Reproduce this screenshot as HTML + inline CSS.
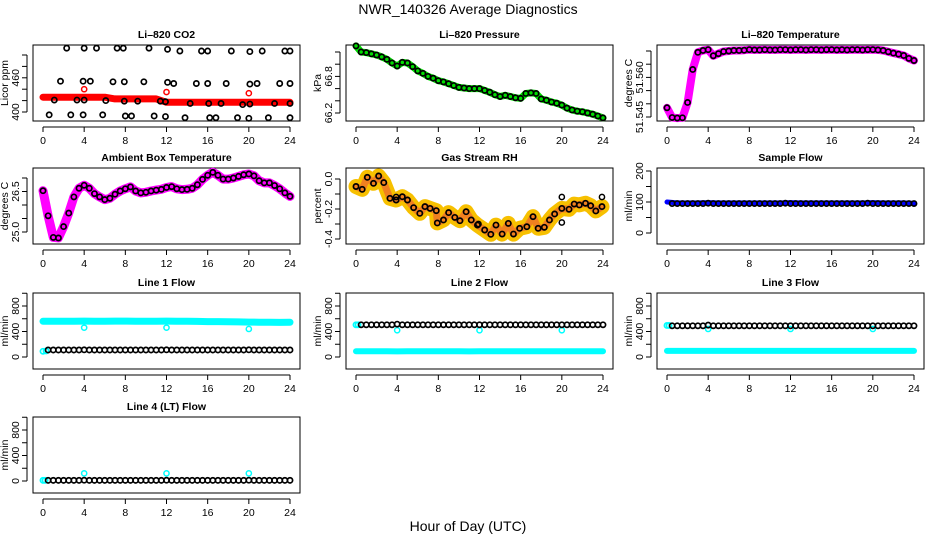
<!DOCTYPE html>
<html><head><meta charset="utf-8">
<style>
html,body{margin:0;padding:0;background:#fff;}
svg{display:block;font-family:"Liberation Sans",sans-serif;}
.t{font-size:10.5px;font-weight:bold;text-anchor:middle;}
.tk{font-size:10.5px;text-anchor:middle;}
</style></head>
<body>
<svg id="fig" width="936" height="540" viewBox="0 0 936 540" xmlns="http://www.w3.org/2000/svg">
<text x="468" y="14" font-size="14" text-anchor="middle">NWR_140326  Average Diagnostics</text>
<text x="468" y="531" font-size="14" text-anchor="middle">Hour of Day (UTC)</text>
</svg>
<script>
const H49=[0,0.5,1,1.5,2,2.5,3,3.5,4,4.5,5,5.5,6,6.5,7,7.5,8,8.5,9,9.5,10,10.5,11,11.5,12,12.5,13,13.5,14,14.5,15,15.5,16,16.5,17,17.5,18,18.5,19,19.5,20,20.5,21,21.5,22,22.5,23,23.5,24];
const H48=[0.5,1,1.5,2,2.5,3,3.5,4,4.5,5,5.5,6,6.5,7,7.5,8,8.5,9,9.5,10,10.5,11,11.5,12,12.5,13,13.5,14,14.5,15,15.5,16,16.5,17,17.5,18,18.5,19,19.5,20,20.5,21,21.5,22,22.5,23,23.5,24];
const H25=[0,1,2,3,4,5,6,7,8,9,10,11,12,13,14,15,16,17,18,19,20,21,22,23,24];
const xTicks=[0,4,8,12,16,20,24];

// CO2
const co2H=[2.3,4.0,5.2,7.2,7.8,10.3,12.1,13.3,15.4,16.0,18.3,20.1,21.3,23.5,24,
 1.7,3.9,4.6,6.8,7.9,9.8,12.1,12.7,14.9,16.0,17.8,20.1,20.8,23,24,
 1.1,3.3,4.0,6.1,7.9,9.2,11.4,11.9,14.3,16.1,17.3,19.4,20.1,22.5,24,
 0.6,2.7,3.9,5.8,8.0,8.6,10.8,11.9,13.8,16.2,16.8,18.9,20,21.9,24];
const co2V=[512,512,512,512,512,512,510,507,507,507,507,506,507,507,507,
 454,454,454,453,453,453,452,450,450,450,450,449,450,450,450,
 421,421,421,420,419,419,419,418,415,415,415,413,414,415,415,
 395,395,395,395,393,393,393,392,390,390,390,390,389,390,390];
const co2RedV=[426,426,426,426,426,426,426,423,423,423,423,423,417,417,417,417,417,417,417,417,417,417,417,417,417];
const co2OutH=[4,12,20];
const co2OutV=[440,435,433];

// Pressure
const presV=[67.3,67.2,67.19,67.17,67.15,67.12,67.08,67.02,66.97,67.03,67.02,66.96,66.89,66.85,66.8,66.77,66.73,66.71,66.68,66.65,66.62,66.61,66.6,66.6,66.6,66.57,66.54,66.5,66.47,66.49,66.47,66.45,66.44,66.52,66.53,66.52,66.43,66.41,66.38,66.36,66.33,66.28,66.25,66.23,66.22,66.2,66.18,66.15,66.12];

// Li-820 temperature
const tempV=[51.5485,51.5448,51.5446,51.5447,51.5505,51.5630,51.5695,51.5702,51.5705,51.5682,51.5690,51.5698,51.5700,51.5702,51.5702,51.5703,51.5705,51.5704,51.5704,51.5705,51.5704,51.5704,51.5705,51.5705,51.5704,51.5705,51.5705,51.5704,51.5705,51.5705,51.5704,51.5705,51.5705,51.5704,51.5705,51.5704,51.5705,51.5705,51.5704,51.5705,51.5705,51.5704,51.5702,51.5697,51.5692,51.5688,51.5683,51.5672,51.5664];

// Ambient box temperature
const ambV=[26.53,25.6,24.8,24.78,25.2,25.7,26.3,26.62,26.73,26.62,26.42,26.3,26.2,26.25,26.4,26.52,26.6,26.67,26.52,26.45,26.47,26.52,26.55,26.58,26.65,26.68,26.6,26.57,26.58,26.62,26.75,26.95,27.1,27.21,27.1,26.96,26.96,27.0,27.06,27.12,27.15,27.08,26.9,26.82,26.82,26.72,26.6,26.45,26.32];

// Gas stream RH
const rhH=[0,0.6,1.1,1.7,2.2,2.7,3.3,3.9,4.5,5.0,5.6,6.2,6.7,7.2,7.8,7.9,8.5,9.0,9.6,10.1,10.7,11.2,11.8,12.5,13.1,13.6,14.2,14.8,15.3,15.9,16.6,17.2,17.7,18.3,18.8,19.3,20.0,20.7,21.2,21.7,22.3,22.8,23.3,23.9];
const rhV=[-0.05,-0.069,0.011,-0.029,0.02,-0.024,-0.129,-0.14,-0.118,-0.14,-0.191,-0.229,-0.184,-0.196,-0.211,-0.293,-0.273,-0.224,-0.256,-0.278,-0.218,-0.273,-0.307,-0.34,-0.369,-0.307,-0.367,-0.296,-0.367,-0.329,-0.318,-0.251,-0.329,-0.322,-0.273,-0.233,-0.196,-0.202,-0.167,-0.173,-0.162,-0.178,-0.213,-0.184];
const rhExH=[20,20,23.9,11.9,3.9];
const rhExV=[-0.12,-0.29,-0.12,-0.3,-0.12];

// Sample flow
const sampleBlack=[95,95,95,95,95,95,95,96,95,95,95,95,95,95,95,95,95,95,95,95,95,95,96,95,95,95,95,95,95,95,95,95,95,95,95,95,95,95,96,95,95,95,95,95,95,95,95,95];
const sampleBlue=[100,97,97,97,98,97,97,97,97,97,97,97,98,97,97,97,97,97,97,97,98,97,97,97,96];

// Line flows
const l1Black=[110,110,110,110,110,110,110,112,110,110,110,110,110,110,110,110,110,110,110,110,110,110,110,112,110,110,110,110,110,110,110,110,110,110,110,110,110,110,110,112,110,110,110,110,110,110,110,110];
const l1Cyan=[560,562,562,562,563,562,562,563,563,562,562,562,563,562,560,558,555,555,552,550,548,546,544,542,545];
const l1CyanLowH=[0,0.3];
const l1CyanLowV=[90,95];
const l1OutV=[460,460,440];

const l2Black=[505,505,505,505,505,505,505,515,505,505,505,505,505,505,505,505,505,505,505,505,505,505,505,505,505,505,505,505,505,505,505,505,505,505,505,505,505,505,505,505,505,505,505,505,505,505,505,505];
const l2CyanLow=[90,90,90,90,88,90,90,90,90,90,90,88,90,90,90,90,90,90,90,90,90,90,90,90,90];
const l2CyanTopH=[0,0.2];
const l2CyanTopV=[505,505];
const l2OutV=[420,420,420];

const l3Black=[490,490,490,490,490,490,490,500,490,490,490,490,490,490,490,490,490,490,490,490,490,490,490,490,490,490,490,490,490,490,490,490,490,490,490,490,490,490,490,490,490,490,490,490,490,490,490,490];
const l3CyanLow=[95,95,95,95,95,95,95,95,95,95,95,95,95,95,95,95,95,95,95,95,95,95,95,95,95];
const l3CyanTopH=[0,0.2];
const l3CyanTopV=[495,495];
const l3OutV=[440,440,440];

const l4Black=[10,10,10,10,10,10,10,12,10,10,10,10,10,10,10,10,10,10,10,10,10,10,10,12,10,10,10,10,10,10,10,10,10,10,10,10,10,10,10,12,10,10,10,10,10,10,10,10];
const l4CyanH=[0,0.2];
const l4CyanV=[10,10];
const l4OutV=[120,120,120];
const outH=[4,12,20];

const NS="http://www.w3.org/2000/svg";
const svg=document.getElementById('fig');
const LEFTS=[33,346,657], TOPS=[45,168,293,417], BW=267, BH=76;
function mk(tag,attrs,parent){const e=document.createElementNS(NS,tag);for(const k in attrs)e.setAttribute(k,attrs[k]);(parent||svg).appendChild(e);return e;}

function panel(name,col,row,title,ylab,cal,ticks,labels,fmt){
  const L=LEFTS[col],T=TOPS[row];
  const g=mk('g',{});
  
  
  const sx=h=>L+10+h*(247/24);
  const k=(cal[3]-cal[1])/(cal[2]-cal[0]);
  const sy=v=>cal[1]+(v-cal[0])*k;
  const tt=mk('text',{x:L+BW/2,y:T-7,class:'t'},g);tt.textContent=title;
  
  
  const box=mk('rect',{x:L,y:T,width:BW,height:BH,fill:'none',stroke:'#000','stroke-width':1},g);
  
  
  const xa=mk('g',{},g);
  
  
  mk('line',{x1:sx(0),x2:sx(24),y1:T+BH+6,y2:T+BH+6,stroke:'#000'},xa);
  xTicks.forEach(h=>{mk('line',{x1:sx(h),x2:sx(h),y1:T+BH+6,y2:T+BH+11,stroke:'#000'},xa);
    const t=mk('text',{x:sx(h),y:T+BH+23,class:'tk'},xa);t.textContent=h;});
  const ya=mk('g',{},g);
  
  
  mk('line',{x1:L-6,x2:L-6,y1:sy(ticks[0]),y2:sy(ticks[ticks.length-1]),stroke:'#000'},ya);
  ticks.forEach(v=>mk('line',{x1:L-11,x2:L-6,y1:sy(v),y2:sy(v),stroke:'#000'},ya));
  labels.forEach(v=>{const y=sy(v);const t=mk('text',{x:L-14,y:y,class:'tk',transform:`rotate(-90 ${L-14} ${y})`},ya);t.textContent=fmt(v);});
  const yl=mk('text',{x:L-25,y:T+BH/2,class:'tk',transform:`rotate(-90 ${L-25} ${T+BH/2})`},g);yl.textContent=ylab;
  
  
  const clip=mk('g',{},g);
  return {g:clip,sx,sy,name};
}
function pts(p,hs,vs,color,r,sw,label){
  const s=mk('g',{},p.g);
  
  
  hs.forEach((h,i)=>mk('circle',{cx:p.sx(h),cy:p.sy(vs[i]),r:r,fill:'none',stroke:color,'stroke-width':sw},s));
}
function band(p,hs,vs,color,w,label){
  const d=hs.map((h,i)=>(i?'L':'M')+p.sx(h).toFixed(1)+' '+p.sy(vs[i]).toFixed(1)).join(' ');
  const e=mk('path',{d:d,fill:'none',stroke:color,'stroke-width':w,'stroke-linejoin':'round','stroke-linecap':'round'},p.g);
  
  
}
const f1=v=>v.toFixed(1), f0=v=>String(v), f3=v=>v.toFixed(3);
const R=2.6, SW=1.7;

let p;
p=panel('co2',0,0,'Li\u2013820 CO2','Licor ppm',[400,112,500,55],[400,420,440,460,480,500],[400,460],f0);
band(p,H25,co2RedV,'#f00',7,'co2-red-band');
pts(p,co2OutH,co2OutV,'#f00',R,1.5,'co2-red-outliers');
pts(p,co2H,co2V,'#000',R,SW,'co2-black-points');

p=panel('pressure',1,0,'Li\u2013820 Pressure','kPa',[66.2,113,67.2,52],[66.2,66.4,66.6,66.8,67.0,67.2],[66.2,66.8],f1);
band(p,H49,presV,'#0d0',7,'pressure-green-band');
pts(p,H49,presV,'#000',R,SW,'pressure-points');

p=panel('li820-temp',2,0,'Li\u2013820 Temperature','degrees C',[51.545,117,51.570,51],[51.545,51.550,51.555,51.560,51.565,51.570],[51.545,51.560],f3);
band(p,H49,tempV,'#f0f',8,'temp-magenta-band');
pts(p,H49,tempV,'#000',R,SW,'temp-points');

p=panel('ambient',0,1,'Ambient Box Temperature','degrees C',[25.0,232,27.0,178],[25.0,25.5,26.0,26.5,27.0],[25.0,26.5],f1);
band(p,H49,ambV,'#f0f',9,'ambient-magenta-band');
pts(p,H49,ambV,'#000',R,SW,'ambient-points');

p=panel('rh',1,1,'Gas Stream RH','percent',[0,179,-0.4,239],[0,-0.1,-0.2,-0.3,-0.4],[0,-0.2,-0.4],f1);
band(p,rhH,rhV,'#f7c000',15,'rh-yellow-cloud');
band(p,rhH,rhV,'#f08020',7,'rh-orange-core');
pts(p,rhH,rhV,'#000',R,SW,'rh-points');
pts(p,rhExH,rhExV,'#000',R,1.5,'rh-extra-points');

p=panel('sample-flow',2,1,'Sample Flow','ml/min',[0,233,200,171],[0,50,100,150,200],[0,100,200],f0);
band(p,H25,sampleBlue,'#00f',5,'sample-blue-band');
pts(p,H48,sampleBlack,'#000',R,SW,'sample-points');

const flowTicks=[0,200,400,600,800,1000], flowLabels=[0,400,800];
p=panel('line1',0,2,'Line 1 Flow','ml/min',[0,357,800,306],flowTicks,flowLabels,f0);
band(p,H25,l1Cyan,'#0ff',7,'line1-cyan-band');
pts(p,l1CyanLowH,l1CyanLowV,'#0ff',R,SW,'line1-cyan-low');
pts(p,outH,l1OutV,'#0ff',R,1.5,'line1-cyan-outliers');
pts(p,H48,l1Black,'#000',R,SW,'line1-points');

p=panel('line2',1,2,'Line 2 Flow','ml/min',[0,357,800,306],flowTicks,flowLabels,f0);
band(p,H25,l2CyanLow,'#0ff',6,'line2-cyan-band');
pts(p,l2CyanTopH,l2CyanTopV,'#0ff',R,SW,'line2-cyan-top');
pts(p,outH,l2OutV,'#0ff',R,1.5,'line2-cyan-outliers');
pts(p,H48,l2Black,'#000',R,SW,'line2-points');

p=panel('line3',2,2,'Line 3 Flow','ml/min',[0,357,800,306],flowTicks,flowLabels,f0);
band(p,H25,l3CyanLow,'#0ff',6,'line3-cyan-band');
pts(p,l3CyanTopH,l3CyanTopV,'#0ff',R,SW,'line3-cyan-top');
pts(p,outH,l3OutV,'#0ff',R,1.5,'line3-cyan-outliers');
pts(p,H48,l3Black,'#000',R,SW,'line3-points');

p=panel('line4',0,3,'Line 4 (LT) Flow','ml/min',[0,481,800,430],flowTicks,flowLabels,f0);
pts(p,l4CyanH,l4CyanV,'#0ff',R,SW,'line4-cyan-start');
pts(p,outH,l4OutV,'#0ff',R,1.5,'line4-cyan-outliers');
pts(p,H48,l4Black,'#000',R,SW,'line4-points');
</script>
</body></html>
